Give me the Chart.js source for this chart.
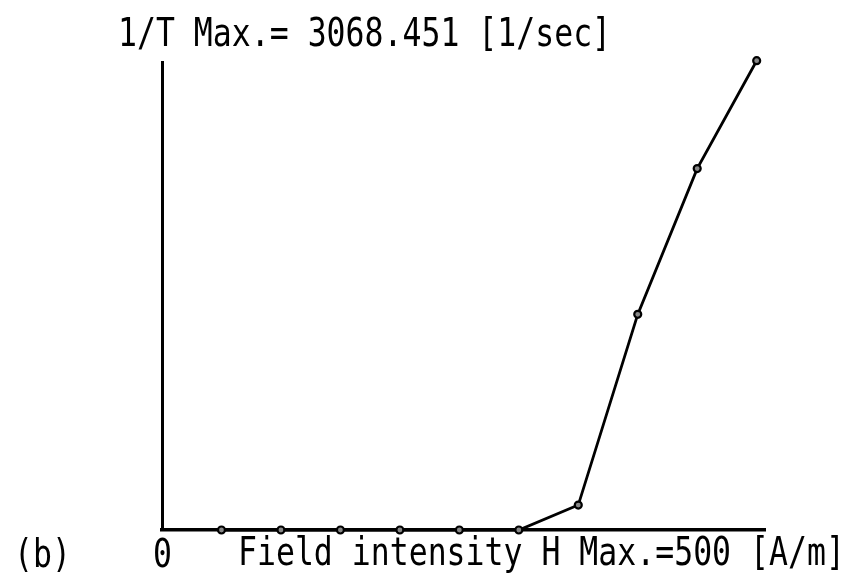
<!DOCTYPE html>
<html>
<head>
<meta charset="utf-8">
<script src="https://cdn.jsdelivr.net/npm/chart.js@4/dist/chart.umd.min.js"></script>
<style>
  html, body { margin: 0; padding: 0; background: #fff; }
  #wrap { width: 851px; height: 584px; }
</style>
</head>
<body>
<div id="wrap"><canvas id="fieldChart" width="851" height="584"></canvas></div>
<script>
// field intensity H [A/m] and 1/T [1/sec]
const fieldH = [50, 100, 150, 200, 250, 300, 350, 400, 450, 500];
const invT = [0, 0, 0, 0, 0, 0, 163, 1410, 2363, 3068.451];

const topLabel = '1/T Max.= 3068.451 [1/sec]';
const bottomLabels = ['(b)', '0', 'Field intensity H Max.=500 [A/m]'];

const monoFont = '"DejaVu Sans Mono", "Liberation Mono", monospace';

// printer-style text: monospace stretched a little taller
function tallText(c, txt, x, y) {
    c.save();
    c.translate(x, y);
    c.scale(1, 1.22);
    c.fillText(txt, 0, 0);
    c.restore();
}

const labelPlugin = {
    id: 'labels',
    afterDraw(chart) {
        const c = chart.ctx;
        const area = chart.chartArea;
        c.save();
        c.fillStyle = '#000';
        c.font = '31.5px ' + monoFont;
        c.textBaseline = 'middle';
        c.textAlign = 'left';
        tallText(c, topLabel, area.left - 44, 36);
        tallText(c, bottomLabels[0], 14, 557);
        tallText(c, bottomLabels[1], area.left - 9, 557);
        tallText(c, bottomLabels[2], 238, 555);
        c.restore();
    }
};

const ctx = document.getElementById('fieldChart').getContext('2d');
const chart = new Chart(ctx, {
    type: 'line',
    data: {
        datasets: [{
            data: fieldH.map((h, i) => ({ x: h, y: invT[i] })),
            borderColor: '#000',
            borderWidth: 2.8,
            pointRadius: 3.5,
            pointBorderWidth: 2.2,
            pointBackgroundColor: '#888',
            pointBorderColor: '#000',
            tension: 0,
            clip: false
        }]
    },
    options: {
        responsive: false,
        animation: false,
        layout: { padding: { left: 162, right: 86, top: 62, bottom: 54 } },
        plugins: {
            legend: { display: false },
            tooltip: { enabled: false }
        },
        scales: {
            x: {
                type: 'linear',
                min: 0,
                max: 507,
                ticks: { display: false },
                grid: { display: false, drawTicks: false },
                border: { display: true, color: '#000', width: 3.5 }
            },
            y: {
                type: 'linear',
                min: 0,
                max: 3060,
                ticks: { display: false },
                grid: { display: false, drawTicks: false },
                border: { display: true, color: '#000', width: 3 }
            }
        }
    },
    plugins: [labelPlugin]
});
</script>
</body>
</html>
